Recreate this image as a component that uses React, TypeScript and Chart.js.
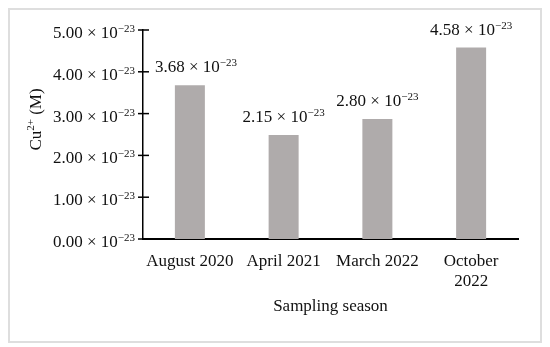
import React, { useEffect, useRef } from "react";
import { Chart, registerables } from "chart.js";

Chart.register(...registerables);

const categories: (string | string[])[] = ["August 2020", "April 2021", "March 2022", ["October", "2022"]];
const barValues = [3.68, 2.49, 2.87, 4.58];
const barLabels = ["3.68", "2.15", "2.80", "4.58"];
const yTickValues = [0, 1, 2, 3, 4, 5];
const exponent = "\u221223";
const yTitleMain = "Cu";
const yTitleSup = "2+";
const yTitleTail = " (M)";
const xTitle = "Sampling season";

const FONT = '"Liberation Serif", "Times New Roman", serif';
const MAIN = `17px ${FONT}`;
const SUP = `11px ${FONT}`;

function drawSci(
  ctx: CanvasRenderingContext2D,
  mant: string,
  x: number,
  y: number,
  align: "right" | "center",
  minStart = -Infinity
) {
  const main = `${mant} \u00d7 10`;
  ctx.font = MAIN;
  const wMain = ctx.measureText(main).width;
  ctx.font = SUP;
  const wSup = ctx.measureText(exponent).width;
  const total = wMain + wSup;
  let start = align === "right" ? x - total : x - total / 2;
  start = Math.max(start, minStart);
  ctx.textAlign = "left";
  ctx.textBaseline = "alphabetic";
  ctx.font = MAIN;
  ctx.fillText(main, start, y);
  ctx.font = SUP;
  ctx.fillText(exponent, start + wMain, y - 6);
}

const customDraw = {
  id: "customDraw",
  afterDraw(chart: any) {
    const ctx: CanvasRenderingContext2D = chart.ctx;
    const y = chart.scales.y;
    const area = chart.chartArea;
    ctx.save();
    ctx.fillStyle = "#111";
    ctx.strokeStyle = "#000";
    ctx.lineWidth = 1.5;
    // y ticks and labels
    yTickValues.forEach((v) => {
      const py = y.getPixelForValue(v);
      ctx.beginPath();
      ctx.moveTo(area.left - 5, py);
      ctx.lineTo(area.left + 6, py);
      ctx.stroke();
      drawSci(ctx, v.toFixed(2), area.left - 8, py + 8, "right");
    });
    // data labels
    const meta = chart.getDatasetMeta(0);
    meta.data.forEach((bar: any, i: number) => {
      drawSci(ctx, barLabels[i], bar.x, bar.y - 13, "center", area.left + 12);
    });
    // y title
    ctx.save();
    ctx.translate(27, (area.top + area.bottom) / 2 - 15);
    ctx.rotate(-Math.PI / 2);
    ctx.font = MAIN;
    const w1 = ctx.measureText(yTitleMain).width;
    const w3 = ctx.measureText(yTitleTail).width;
    ctx.font = SUP;
    const w2 = ctx.measureText(yTitleSup).width;
    const tot = w1 + w2 + w3;
    let sx = -tot / 2;
    ctx.textAlign = "left";
    ctx.textBaseline = "middle";
    ctx.font = MAIN;
    ctx.fillText(yTitleMain, sx, 0);
    sx += w1;
    ctx.font = SUP;
    ctx.fillText(yTitleSup, sx, -6);
    sx += w2;
    ctx.font = MAIN;
    ctx.fillText(yTitleTail, sx, 0);
    ctx.restore();
    // x title
    ctx.font = MAIN;
    ctx.textAlign = "center";
    ctx.textBaseline = "middle";
    ctx.fillText(xTitle, (area.left + area.right) / 2, 297);
    ctx.restore();
  },
};

export default function App() {
  const ref = useRef<HTMLCanvasElement | null>(null);
  useEffect(() => {
    if (!ref.current) return;
    const chart = new Chart(ref.current, {
      type: "bar",
      data: {
        labels: categories,
        datasets: [
          {
            data: barValues,
            backgroundColor: "#afabab",
            borderWidth: 0,
            categoryPercentage: 1,
            barPercentage: 0.32,
          },
        ],
      },
      options: {
        responsive: false,
        animation: false,
        layout: { padding: { top: 20, right: 22, left: 0, bottom: 0 } },
        plugins: { legend: { display: false }, tooltip: { enabled: false } },
        scales: {
          x: {
            grid: { display: false, drawTicks: false },
            border: { display: true, color: "#000", width: 2 },
            ticks: { color: "#111", font: { family: FONT, size: 17 }, padding: 12, maxRotation: 0, autoSkip: false },
            afterFit: (s: any) => {
              s.height = 102;
            },
          },
          y: {
            min: 0,
            max: 5,
            grid: { display: false, drawTicks: false },
            border: { display: true, color: "#000", width: 1.5 },
            ticks: { display: false, stepSize: 1 },
            afterFit: (s: any) => {
              s.width = 133;
            },
          },
        },
      },
      plugins: [customDraw],
    });
    return () => chart.destroy();
  }, []);
  return (
    <div style={{ width: 534, height: 335, border: "2px solid #dedede", boxSizing: "border-box", background: "#fff" }}>
      <canvas ref={ref} width={530} height={331} style={{ display: "block" }} />
    </div>
  );
}
